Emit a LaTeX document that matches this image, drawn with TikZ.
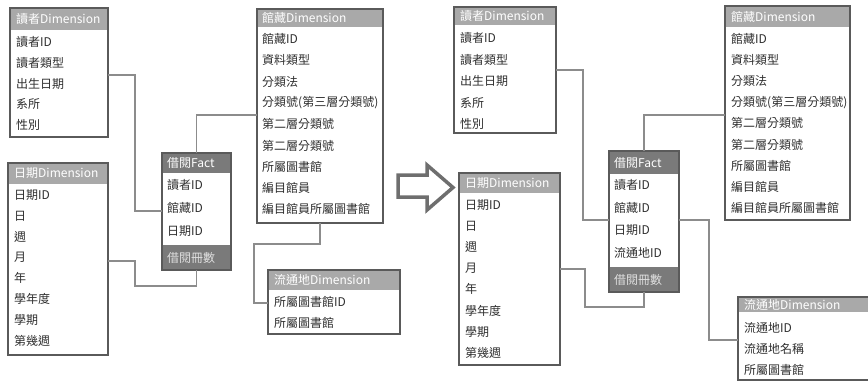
\documentclass[tikz,border=0pt]{standalone}
\usepackage{fontspec}
\newfontfamily\cjk{Noto Sans CJK TC}
\definecolor{bordercol}{HTML}{5A5A5A}
\definecolor{hdrlight}{HTML}{A9A9A9}
\definecolor{hdrdark}{HTML}{7A7A7A}
\definecolor{textcol}{HTML}{2E2E2E}
\definecolor{conncol}{HTML}{8C8C8C}
\definecolor{arrowcol}{HTML}{6E6E6E}
\begin{document}
\begin{tikzpicture}[x=1pt,y=-1pt,
  tbl/.style={draw=bordercol,line width=1.3pt,rectangle,anchor=north west,inner sep=0pt,outer sep=0pt},
  hdr/.style={fill=hdrlight},
  fhdr/.style={fill=hdrdark},
  txt/.style={anchor=west,inner sep=0pt,text=textcol,font=\cjk\fontsize{12}{14}\selectfont},
  htxt/.style={txt,text=white},
  ftxt/.style={txt,text=black!12},
  conn/.style={draw=conncol,line width=1.1pt},
  bigarrow/.style={draw=arrowcol,line width=3.5pt,fill=white,line join=miter}
  ]
\useasboundingbox (0,0) rectangle (868,383);

% ===== LEFT SIDE =====
% 讀者Dimension
\fill[hdr] (10,8) rectangle (108,30);
\node[htxt] (rdAh) at (16,19) {讀者Dimension};
\foreach \t [count=\i] in {讀者ID,讀者類型,出生日期,系所,性別}
  \node[txt] (rdA-\i) at (16,{42+20.8*(\i-1)}) {\t};
\node[tbl,minimum width=98pt,minimum height=129pt] (rdA) at (10,8) {};

% 日期Dimension
\fill[hdr] (8,163) rectangle (108,184);
\node[htxt] (dtAh) at (14,173.5) {日期Dimension};
\foreach \t [count=\i] in {日期ID,日,週,月,年,學年度,學期,第幾週}
  \node[txt] (dtA-\i) at (14,{195+20.8*(\i-1)}) {\t};
\node[tbl,minimum width=100pt,minimum height=192pt] (dtA) at (8,163) {};

% 借閱Fact
\fill[fhdr] (162,153) rectangle (231,173);
\fill[fhdr] (162,245) rectangle (231,270);
\node[htxt] (lfAh) at (167,163) {借閱Fact};
\node[ftxt] (lfAf) at (167,257.5) {借閱冊數};
\foreach \t [count=\i] in {讀者ID,館藏ID,日期ID}
  \node[txt] (lfA-\i) at (167,{185+23*(\i-1)}) {\t};
\node[tbl,minimum width=69pt,minimum height=117pt] (lfA) at (162,153) {};

% 館藏Dimension
\fill[hdr] (257,9) rectangle (383,27);
\node[htxt] (lcAh) at (262,18) {館藏Dimension};
\foreach \t [count=\i] in {館藏ID,資料類型,分類法,分類號(第三層分類號),第二層分類號,第二層分類號,所屬圖書館,編目館員,編目館員所屬圖書館}
  \node[txt] (lcA-\i) at (262,{39+21.3*(\i-1)}) {\t};
\node[tbl,minimum width=126pt,minimum height=214pt] (lcA) at (257,9) {};

% 流通地Dimension
\fill[hdr] (268,270) rectangle (400,290);
\node[htxt] (llAh) at (274,280) {流通地Dimension};
\foreach \t [count=\i] in {所屬圖書館ID,所屬圖書館}
  \node[txt] (llA-\i) at (274,{302+20.5*(\i-1)}) {\t};
\node[tbl,minimum width=132pt,minimum height=64pt] (llA) at (268,270) {};

% connectors left
\draw[conn] (rdA.north east |- 0,75) -| (135,211) -- (lfA.west |- 0,211);
\draw[conn] (dtA.north east |- 0,261) -| (135,286) -| (lfA.south);
\draw[conn] (lcA.north west |- 0,115) -| (lfA.north);
\draw[conn] (lcA.south) -- (320,244) -| (254,303) -- (llA.west |- 0,303);

% ===== ARROW =====
\draw[bigarrow] (398,175) -- (427,175) -- (427,165) -- (453,187.5) -- (427,210) -- (427,197) -- (398,197) -- cycle;

% ===== RIGHT SIDE =====
% 讀者Dimension
\fill[hdr] (454,7) rectangle (556,25);
\node[htxt] (rdBh) at (460,16) {讀者Dimension};
\foreach \t [count=\i] in {讀者ID,讀者類型,出生日期,系所,性別}
  \node[txt] (rdB-\i) at (460,{38+21.5*(\i-1)}) {\t};
\node[tbl,minimum width=102pt,minimum height=126pt] (rdB) at (454,7) {};

% 日期Dimension
\fill[hdr] (459,173) rectangle (560,193);
\node[htxt] (dtBh) at (465,183) {日期Dimension};
\foreach \t [count=\i] in {日期ID,日,週,月,年,學年度,學期,第幾週}
  \node[txt] (dtB-\i) at (465,{205+21.1*(\i-1)}) {\t};
\node[tbl,minimum width=101pt,minimum height=192pt] (dtB) at (459,173) {};

% 借閱Fact
\fill[fhdr] (609,151) rectangle (679,174);
\fill[fhdr] (609,267) rectangle (679,292);
\node[htxt] (rfBh) at (614,162.5) {借閱Fact};
\node[ftxt] (rfBf) at (614,279.5) {借閱冊數};
\foreach \t [count=\i] in {讀者ID,館藏ID,日期ID,流通地ID}
  \node[txt] (rfB-\i) at (614,{185+22.7*(\i-1)}) {\t};
\node[tbl,minimum width=70pt,minimum height=141pt] (rfB) at (609,151) {};

% 館藏Dimension
\fill[hdr] (725,6) rectangle (850,27);
\node[htxt] (lcBh) at (731,16.5) {館藏Dimension};
\foreach \t [count=\i] in {館藏ID,資料類型,分類法,分類號(第三層分類號),第二層分類號,第二層分類號,所屬圖書館,編目館員,編目館員所屬圖書館}
  \node[txt] (lcB-\i) at (731,{38.5+21.2*(\i-1)}) {\t};
\node[tbl,minimum width=125pt,minimum height=214pt] (lcB) at (725,6) {};

% 流通地Dimension
\fill[hdr] (738,297) rectangle (872,312);
\node[htxt] (llBh) at (744,304.5) {流通地Dimension};
\foreach \t [count=\i] in {流通地ID,流通地名稱,所屬圖書館}
  \node[txt] (llB-\i) at (744,{328+21*(\i-1)}) {\t};
\node[tbl,minimum width=134pt,minimum height=83pt] (llB) at (738,297) {};

% connectors right
\draw[conn] (rdB.north east |- 0,70) -| (583,220) -- (rfB.west |- 0,220);
\draw[conn] (lcB.north west |- 0,115) -| (rfB.north);
\draw[conn] (rfB.north east |- 0,220) -| (709,340) -- (llB.west |- 0,340);
\draw[conn] (dtB.north east |- 0,269) -| (585,307) -| (rfB.south);
\end{tikzpicture}
\end{document}
